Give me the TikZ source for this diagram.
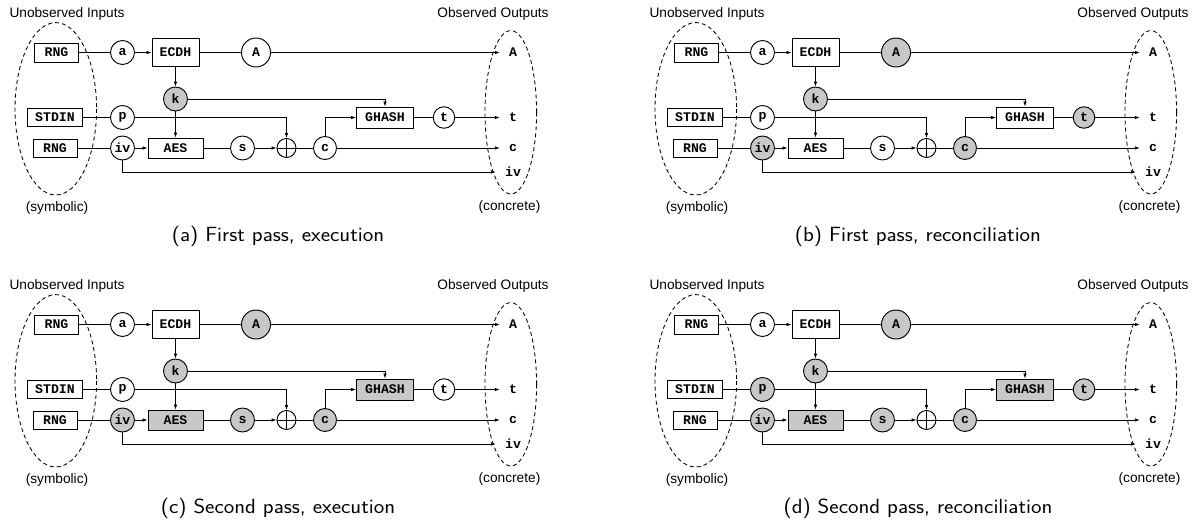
\documentclass[tikz,border=0pt]{standalone}
\usepackage{fontspec}
\usepackage{graphicx}
\usetikzlibrary{arrows.meta}
\newfontfamily\arialf{Liberation Sans}
\newfontfamily\courf{Liberation Mono}
\definecolor{gr}{RGB}{200,200,200}
\tikzset{
  base/.style={draw, line width=0.95pt, inner sep=0pt, font=\courf\bfseries\fontsize{13.2}{15}\selectfont},
  blk/.style={base, rectangle},
  cir/.style={base, circle, minimum size=24pt},
  con/.style={line width=0.8pt},
  arr/.style={con, -{Latex[length=5pt,width=3.6pt]}},
  outl/.style={inner xsep=9pt, inner ysep=0pt, font=\courf\bfseries\fontsize{13.2}{15}\selectfont},
  lab/.style={font=\arialf\fontsize{13.7}{16}\selectfont, inner sep=0pt},
  capt/.style={font=\sffamily\fontsize{20.5}{24}\selectfont, inner sep=0pt},
  oval/.style={draw, line width=0.85pt, dash pattern=on 4pt off 3pt},
  gfill/.style={fill=gr},
  fA/.style={}, fk/.style={}, fp/.style={}, fiv/.style={}, fs/.style={},
  fc/.style={}, ft/.style={}, faes/.style={}, fghash/.style={}
}
\newcommand{\drawpanel}[5]{%
\begin{scope}[shift={(#2,#3)}, #4]
  % texts
  \node[lab] (ui#1) at (67,14) {Unobserved Inputs};
  \node[lab] (oo#1) at (493,14) {Observed Outputs};
  \node[lab] (sy#1) at (57,208) {(symbolic)};
  \node[lab] (co#1) at (509.5,207) {(concrete)};
  \node[capt] (cap#1) at (278,236) {\scalebox{1.09}[1]{#5}};
  % ellipses
  \path[oval] (55.8,108.8) ellipse [x radius=40.8, y radius=86.2];
  \path[oval] (510.8,112.3) ellipse [x radius=25.8, y radius=81.7];
  % nodes
  \node[blk, minimum width=44pt, minimum height=19pt] (rngA#1) at (56.5,52.5) {RNG};
  \node[blk, minimum width=55pt, minimum height=18pt] (stdin#1) at (55,117.5) {STDIN};
  \node[blk, minimum width=44pt, minimum height=18pt] (rngB#1) at (55,148) {RNG};
  \node[cir] (a#1) at (122.5,52.5) {a};
  \node[blk, minimum width=47pt, minimum height=28pt] (ecdh#1) at (175.5,52.5) {ECDH};
  \node[cir, minimum size=29pt, fA] (A#1) at (256,52.5) {A};
  \node[cir, fk] (k#1) at (175.5,99) {k};
  \node[cir, fp] (p#1) at (122.5,117.5) {p};
  \node[cir, fiv] (iv#1) at (122.5,148) {iv};
  \node[blk, minimum width=55pt, minimum height=20pt, faes] (aes#1) at (175.5,148) {AES};
  \node[cir, fs] (s#1) at (242.5,148) {s};
  \node[base, circle, minimum size=19pt] (xor#1) at (286.5,148) {};
  \draw[line width=0.95pt] (xor#1.north) -- (xor#1.south) (xor#1.west) -- (xor#1.east);
  \node[cir, minimum size=23pt, fc] (c#1) at (325,148) {c};
  \node[blk, minimum width=57pt, minimum height=21pt, fghash] (gh#1) at (385,117.5) {GHASH};
  \node[cir, minimum size=21.5pt, ft] (t#1) at (444,117.5) {t};
  \node[outl] (oA#1) at (513,52.5) {A};
  \node[outl] (ot#1) at (513,117.5) {t};
  \node[outl] (oc#1) at (513,148) {c};
  \node[outl] (oiv#1) at (513,172) {iv};
  % connectors
  \draw[con] (rngA#1) -- (a#1);
  \draw[arr] (a#1) -- (ecdh#1);
  \draw[con] (ecdh#1) -- (A#1);
  \draw[arr] (A#1) -- (oA#1);
  \draw[arr] (ecdh#1) -- (k#1);
  \draw[arr] (k#1) -- (aes#1);
  \draw[arr] (k#1) -| (gh#1);
  \draw[con] (stdin#1) -- (p#1);
  \draw[arr] (p#1) -| (xor#1);
  \draw[con] (rngB#1) -- (iv#1);
  \draw[arr] (iv#1) -- (aes#1);
  \draw[con] (aes#1) -- (s#1);
  \draw[arr] (s#1) -- (xor#1);
  \draw[con] (xor#1) -- (c#1);
  \draw[arr] (c#1) |- (gh#1);
  \draw[con] (gh#1) -- (t#1);
  \draw[arr] (t#1) -- (ot#1);
  \draw[arr] (c#1) -- (oc#1);
  \draw[arr] (iv#1) |- (oiv#1);
\end{scope}}
\begin{document}
\begin{tikzpicture}[x=1pt, y=-1pt]
  \useasboundingbox (0,0) rectangle (1192,520);
  \drawpanel{a}{0}{0}{fk/.style={gfill}}{(a) First pass, execution}
  \drawpanel{b}{640}{0}{fA/.style={gfill}, fk/.style={gfill}, fiv/.style={gfill}, ft/.style={gfill}, fc/.style={gfill}}{(b) First pass, reconciliation}
  \drawpanel{c}{0}{272}{fA/.style={gfill}, fk/.style={gfill}, fiv/.style={gfill}, fs/.style={gfill}, fc/.style={gfill}, faes/.style={gfill}, fghash/.style={gfill}}{(c) Second pass, execution}
  \drawpanel{d}{640}{272}{fA/.style={gfill}, fk/.style={gfill}, fp/.style={gfill}, fiv/.style={gfill}, fs/.style={gfill}, ft/.style={gfill}, fc/.style={gfill}, faes/.style={gfill}, fghash/.style={gfill}}{(d) Second pass, reconciliation}
\end{tikzpicture}
\end{document}
